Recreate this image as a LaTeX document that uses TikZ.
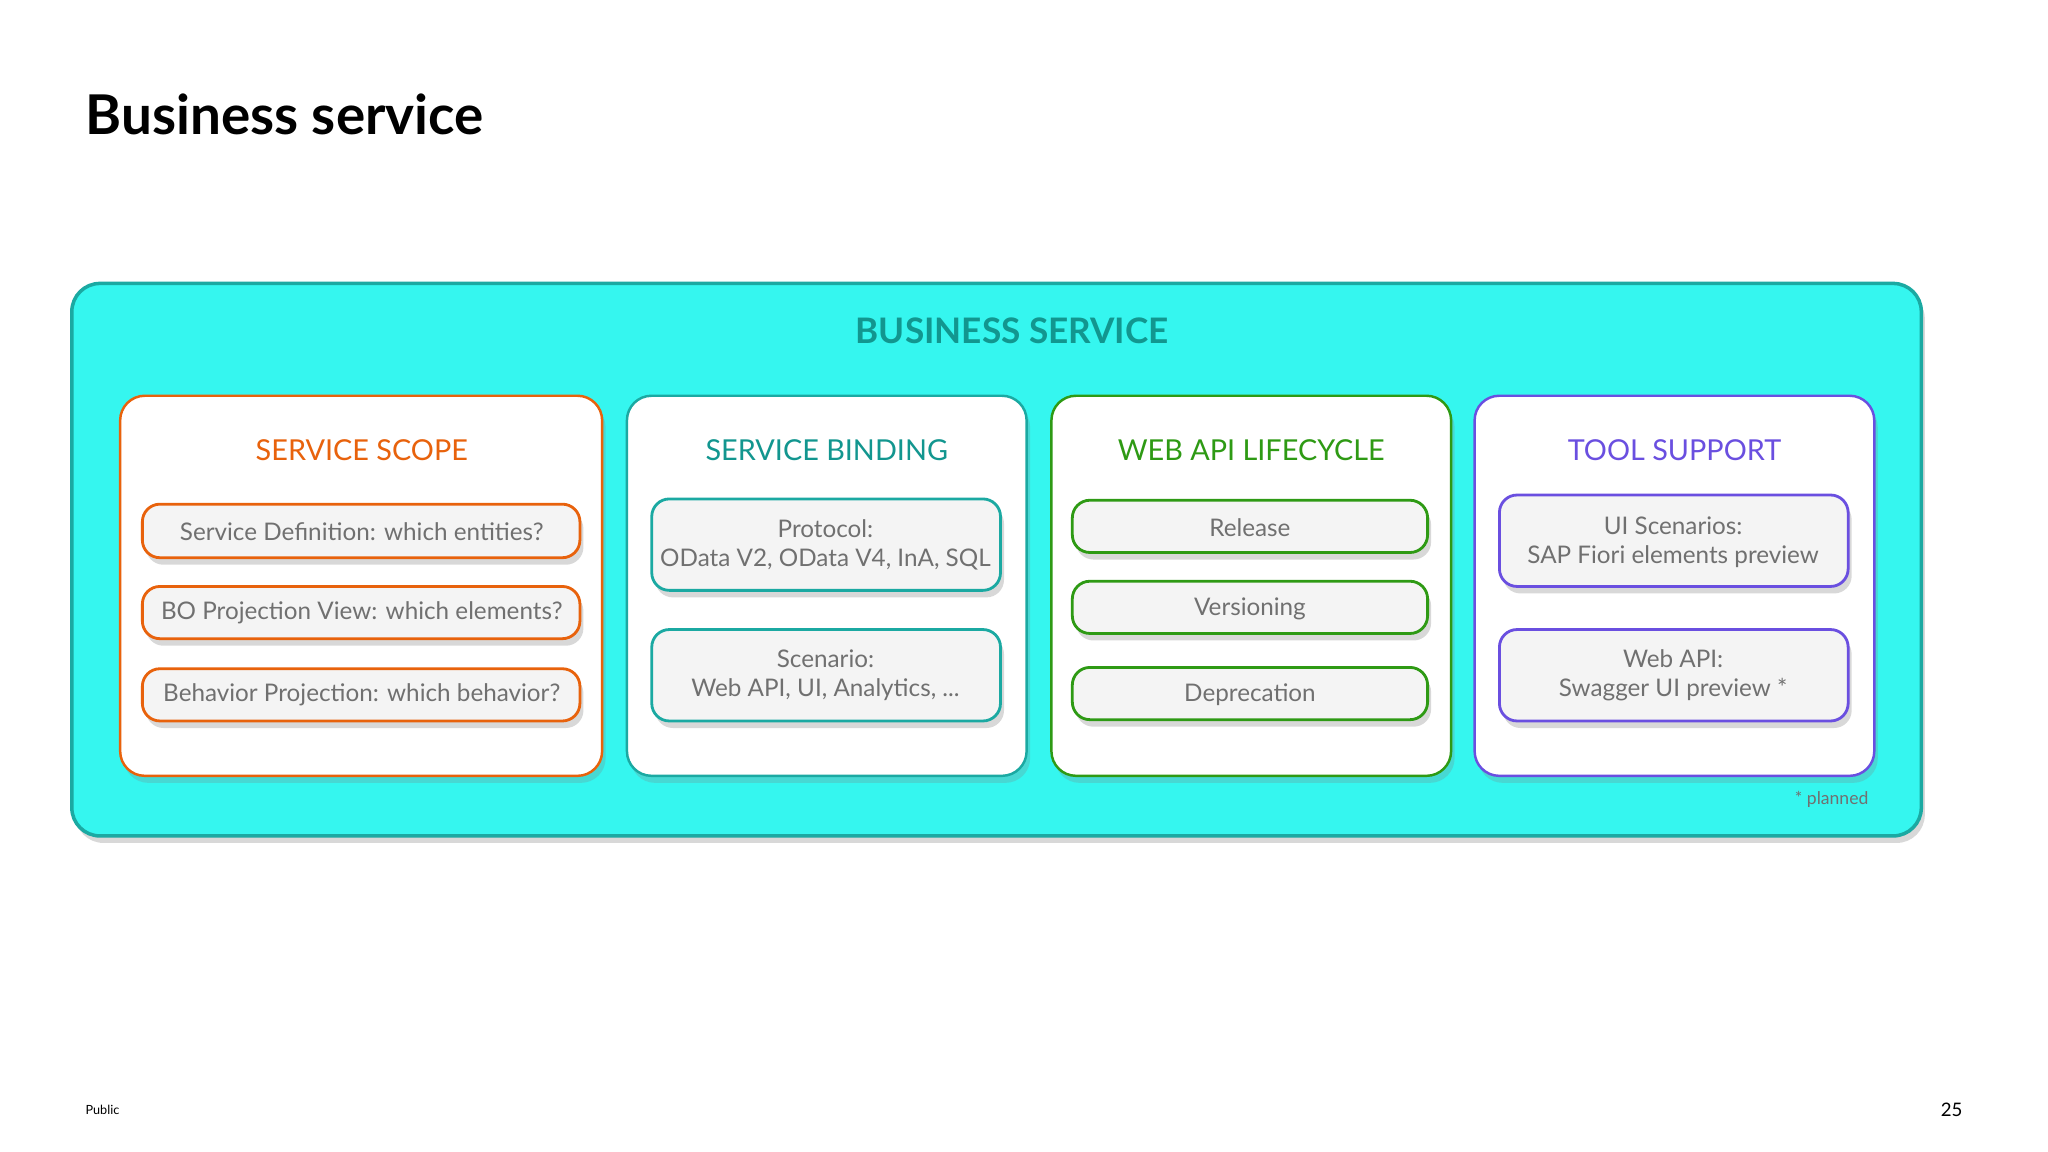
\documentclass[tikz,border=0pt]{standalone}
\usepackage{fontspec}
\setmainfont{Lato}
\usetikzlibrary{shadows}
\definecolor{cyanbg}{HTML}{35F6EF}
\definecolor{tealb}{HTML}{1BA9A2}
\definecolor{tealt}{HTML}{12968F}
\definecolor{orng}{HTML}{E8620C}
\definecolor{grn}{HTML}{2E9A14}
\definecolor{purp}{HTML}{6A4FE0}
\definecolor{txtg}{HTML}{707070}
\definecolor{inner}{HTML}{F4F4F4}
\tikzset{
  px/.style={x=0.013061cm,y=-0.013061cm},
  outerbox/.style={draw=tealb,line width=1pt,fill=cyanbg,rounded corners=8pt,drop shadow={shadow xshift=1pt,shadow yshift=-2pt,opacity=0.3}},
  colbox/.style={draw=#1,line width=0.7pt,fill=white,rounded corners=7pt,drop shadow={shadow xshift=1pt,shadow yshift=-2pt,opacity=0.25}},
  itembox/.style={draw=#1,line width=0.8pt,fill=inner,rounded corners=5pt,drop shadow={shadow xshift=1pt,shadow yshift=-2pt,opacity=0.3}},
  itemtxt/.style={text=txtg,font=\fontsize{6.9}{8.4}\selectfont,align=center},
  head/.style={text=#1,font=\fontsize{8.2}{10}\selectfont},
}
\begin{document}
\begin{tikzpicture}[px]
\useasboundingbox[fill=white] (0,0) rectangle (1568,882);
\node[anchor=base west,inner sep=0pt,font=\fontsize{15.6}{18}\bfseries\selectfont] (title) at (65,103) {Business service};
\draw[outerbox] (55,217) rectangle (1471,640);
\node[text=tealt,font=\fontsize{10}{12}\bfseries\selectfont] (bs) at (775,253) {BUSINESS SERVICE};
% columns
\draw[colbox=orng] (92,303) rectangle (461,594);
\draw[colbox=tealb] (480,303) rectangle (786,594);
\draw[colbox=grn] (805,303) rectangle (1111,594);
\draw[colbox=purp] (1129,303) rectangle (1435,594);
\node[head=orng] (h1) at (277,345) {SERVICE SCOPE};
\node[head=tealt] (h2) at (633,345) {SERVICE BINDING};
\node[head=grn] (h3) at (958,345) {WEB API LIFECYCLE};
\node[head=purp] (h4) at (1282,345) {TOOL SUPPORT};
% scope
\draw[itembox=orng] (109,386) rectangle (444,427);
\node[itemtxt] (s1) at (277,407) {Service Definition: which entities?};
\draw[itembox=orng] (109,449) rectangle (444,489);
\node[itemtxt] (s2) at (277,469) {BO Projection View: which elements?};
\draw[itembox=orng] (109,512) rectangle (444,552);
\node[itemtxt] (s3) at (277,532) {Behavior Projection: which behavior?};
% binding
\draw[itembox=tealb] (499,382) rectangle (766,452);
\node[itemtxt] (b1) at (632,417) {Protocol:\\OData V2, OData V4, InA, SQL};
\draw[itembox=tealb] (499,482) rectangle (766,552);
\node[itemtxt] (b2) at (632,517) {Scenario:\\Web API, UI, Analytics, ...};
% lifecycle
\draw[itembox=grn] (821,383) rectangle (1093,423);
\node[itemtxt] (l1) at (957,404) {Release};
\draw[itembox=grn] (821,445) rectangle (1093,485);
\node[itemtxt] (l2) at (957,466) {Versioning};
\draw[itembox=grn] (821,511) rectangle (1093,551);
\node[itemtxt] (l3) at (957,532) {Deprecation};
% tool
\draw[itembox=purp] (1148,379) rectangle (1415,449);
\node[itemtxt] (t1) at (1281,415) {UI Scenarios:\\SAP Fiori elements preview};
\draw[itembox=purp] (1148,482) rectangle (1415,552);
\node[itemtxt] (t2) at (1281,517) {Web API:\\Swagger UI preview *};
\node[anchor=east,text=txtg,font=\fontsize{5}{6}\selectfont] (pl) at (1440,612) {* planned};
\node[anchor=west,inner sep=0pt,font=\fontsize{3.6}{4.5}\selectfont] (pub) at (65,850) {Public};
\node[anchor=east,inner sep=0pt,font=\fontsize{5.3}{6}\selectfont] (pg) at (1503,850) {25};
\end{tikzpicture}
\end{document}
